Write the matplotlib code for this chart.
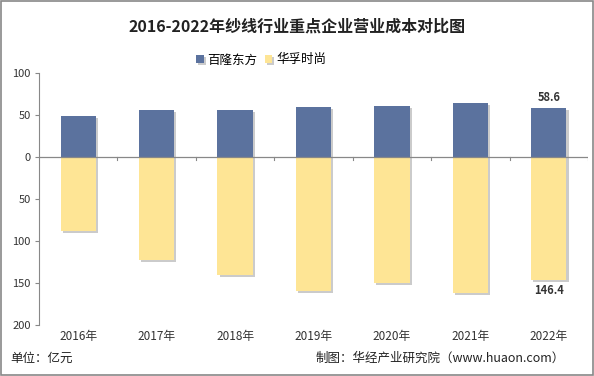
import numpy as np
import matplotlib.pyplot as plt
from matplotlib import patheffects

plt.rcParams['font.family'] = ['Noto Sans CJK SC', 'DejaVu Sans']

years = ['2016年', '2017年', '2018年', '2019年', '2020年', '2021年', '2022年']
bailong = [48.5, 56.0, 56.0, 60.0, 60.5, 64.0, 58.6]
huafu = [88.0, 122.5, 140.5, 159.5, 149.5, 161.5, 146.4]
yticks = [100, 50, 0, -50, -100, -150, -200]
ytick_labels = ['100', '50', '0', '50', '100', '150', '200']

blue = '#5b729e'
yellow = '#fee595'

fig = plt.figure(figsize=(5.94, 3.76), dpi=100)
ax = fig.add_axes([39 / 594, 1 - 325 / 376, 549 / 594, 252 / 376])

x = np.arange(len(years))
w = 0.45
shadow = [patheffects.SimplePatchShadow(offset=(1.5, -1.5), shadow_rgbFace='#999999', alpha=0.5),
          patheffects.Normal()]
b1 = ax.bar(x, bailong, width=w, color=blue, label='百隆东方', zorder=3)
b2 = ax.bar(x, [-v for v in huafu], width=w, color=yellow, label='华孚时尚', zorder=3)
for bar in list(b1) + list(b2):
    bar.set_path_effects(shadow)

ax.text(x[-1], bailong[-1] + 4, f'{bailong[-1]}', ha='center', va='bottom',
        fontsize=8, fontweight='bold', color='#333333')
ax.text(x[-1], -huafu[-1] - 5, f'{huafu[-1]}', ha='center', va='top',
        fontsize=8, fontweight='bold', color='#333333')

ax.set_xlim(-0.5, len(years) - 0.5)
ax.set_ylim(-200, 100)
ax.set_yticks(yticks)
ax.set_yticklabels(ytick_labels, fontsize=8, color='#333333')
ax.tick_params(axis='y', length=3, color='#888888', pad=3)

ax.set_xticks([])
for sp in ['top', 'right', 'bottom']:
    ax.spines[sp].set_visible(False)
ax.spines['left'].set_color('#888888')
ax.axhline(0, color='#888888', lw=0.9, zorder=4)
for b in np.arange(0.5, len(years) - 0.5):
    ax.plot([b, b], [0, -3], color='#888888', lw=0.8, zorder=4)
ax.plot([len(years) - 0.5] * 2, [0, -3], color='#888888', lw=0.8, zorder=4)
for i, lab in enumerate(years):
    ax.text(i, -206, lab, ha='center', va='top', fontsize=8.5, color='#333333')

fig.text(0.5, 1 - 27 / 376, '2016-2022年纱线行业重点企业营业成本对比图', ha='center', va='center',
         fontsize=11.5, fontweight='bold', color='#222222')
fig.legend(handles=[b1, b2], loc='center', bbox_to_anchor=(261 / 594, 1 - 60 / 376), ncol=2,
           frameon=False, fontsize=9, handlelength=0.6, handleheight=0.6,
           columnspacing=0.6, handletextpad=0.3)

fig.text(10 / 594, 1 - 358 / 376, '单位：亿元', ha='left', va='center', fontsize=9, color='#222222')
fig.text(316 / 594, 1 - 358 / 376, '制图：华经产业研究院（www.huaon.com）', ha='left', va='center',
         fontsize=9, color='#222222')

fig.patches.append(plt.Rectangle((0.002, 0.003), 0.996, 0.994, transform=fig.transFigure,
                                 fill=False, edgecolor='#888888', lw=1.2))

fig.savefig('out.png', dpi=100)
